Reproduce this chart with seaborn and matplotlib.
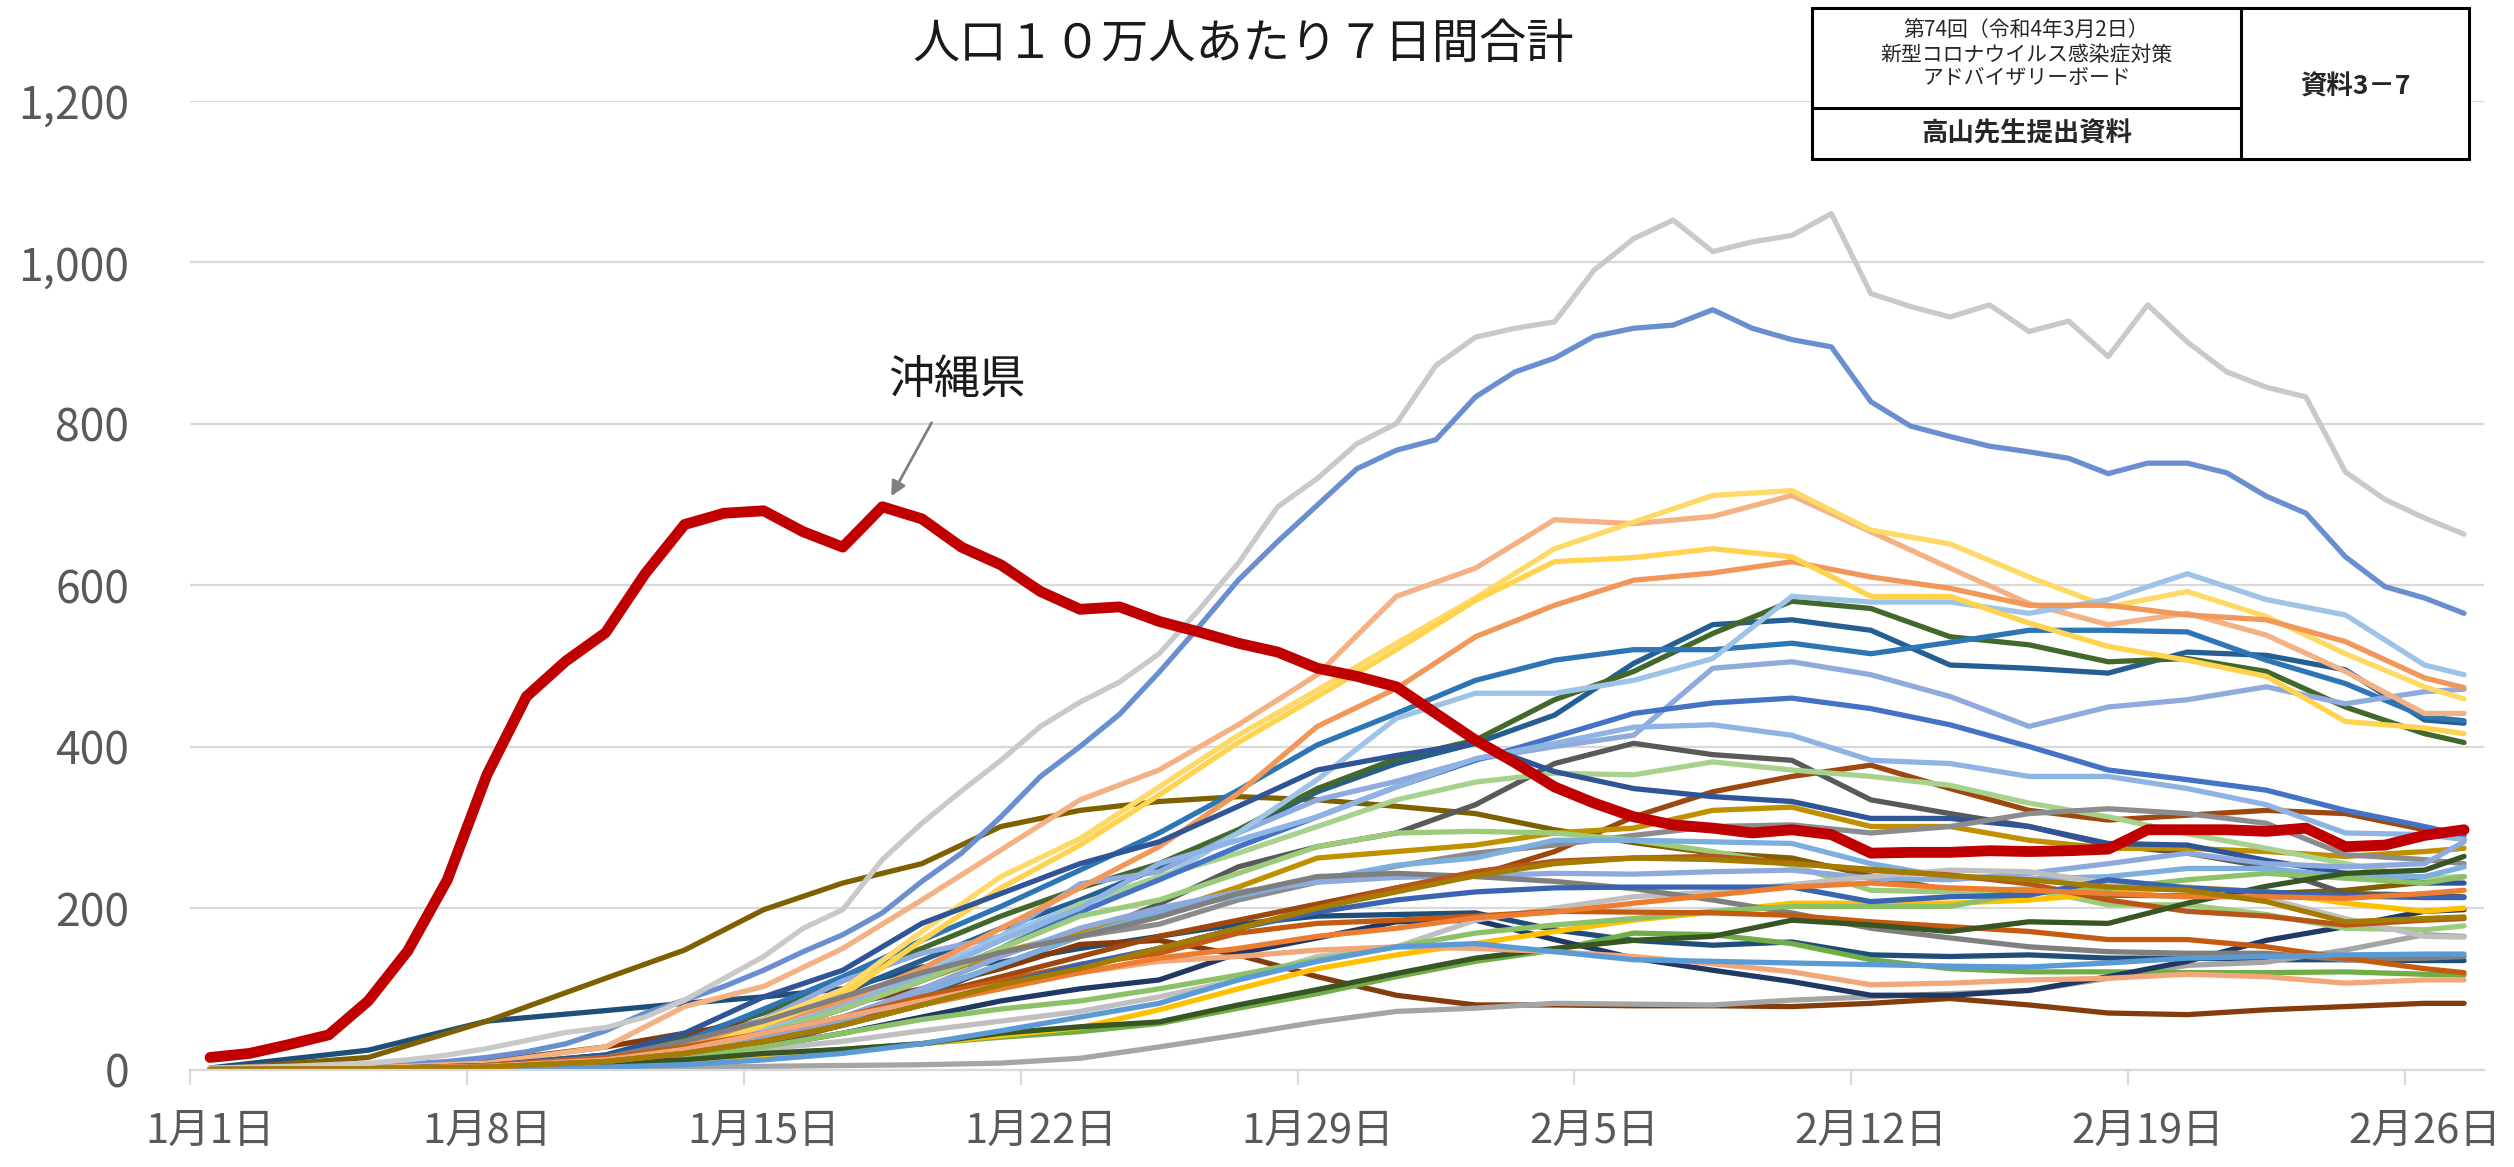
import pandas as pd
import seaborn as sns
import matplotlib
matplotlib.use('Agg')
from matplotlib import pyplot as plt
from matplotlib.patches import Rectangle
from matplotlib.lines import Line2D

# days since 1/1 (1/1 .. 2/27)
days = list(range(58))
# sparse day grid used for the crowded lines
grid = [0, 4, 7, 10, 12, 14, 16, 18, 20, 22, 24, 26, 28, 30, 32, 34, 36, 38, 40, 42, 44, 46, 48, 50, 52, 54, 56, 57]

tick_days = [0, 7, 14, 21, 28, 35, 42, 49, 56]
tick_labels = ['1月1日', '1月8日', '1月15日', '1月22日', '1月29日', '2月5日', '2月12日', '2月19日', '2月26日']
y_ticks = [0, 200, 400, 600, 800, 1000, 1200]

okinawa = [15, 20, 31, 43, 85, 147, 235, 365, 462, 506, 541, 614, 675, 689, 692, 666, 647, 697, 682, 647,
           625, 592, 570, 573, 555, 542, 528, 517, 497, 487, 474, 441, 408, 380, 350, 330, 313, 303, 299, 293,
           297, 291, 268, 269, 269, 271, 270, 271, 273, 297, 297, 297, 295, 299, 276, 278, 290, 297]
osaka = [2, 3, 4, 6, 8, 12, 18, 26, 36, 46, 52, 65, 86, 113, 140, 175, 198, 260, 305, 345,
         383, 425, 455, 480, 515, 569, 627, 697, 732, 775, 800, 872, 907, 918, 926, 990, 1029, 1052, 1013, 1025,
         1033, 1060, 961, 945, 932, 947, 914, 927, 883, 947, 901, 864, 845, 833, 740, 706, 683, 663]
tokyo = [1, 1, 2, 3, 5, 7, 10, 15, 22, 32, 48, 70, 86, 103, 123, 146, 167, 194, 233, 268,
         313, 363, 400, 440, 492, 548, 606, 654, 699, 744, 767, 780, 833, 864, 881, 908, 918, 922, 941, 918,
         904, 895, 827, 797, 784, 772, 765, 757, 738, 751, 751, 739, 710, 689, 635, 598, 584, 565]

# values on the sparse grid
yellow_a = [0, 1, 4, 12, 25, 61, 99, 171, 239, 286, 350, 414, 470, 528, 584, 645, 678, 711, 717, 668, 651, 610, 573, 592, 561, 515, 474, 459]
salmon_a = [0, 2, 8, 28, 78, 103, 150, 210, 272, 334, 371, 427, 489, 586, 621, 681, 676, 685, 711, 666, 621, 577, 551, 565, 538, 493, 441, 441]
yellow_b = [0, 1, 3, 10, 22, 55, 92, 160, 225, 278, 340, 405, 462, 520, 581, 629, 634, 645, 635, 586, 586, 553, 524, 507, 487, 431, 423, 416]
orange_a = [0, 1, 4, 14, 30, 55, 85, 125, 175, 225, 276, 342, 425, 472, 536, 575, 606, 615, 629, 610, 596, 575, 575, 563, 557, 530, 485, 473]
skyblue_a = [0, 1, 4, 12, 25, 50, 80, 120, 165, 205, 235, 293, 359, 435, 466, 466, 482, 509, 586, 579, 579, 565, 582, 614, 582, 563, 501, 489]
blue_a = [0, 1, 4, 15, 35, 75, 115, 160, 202, 247, 293, 346, 402, 441, 482, 507, 520, 520, 528, 515, 529, 544, 544, 542, 507, 478, 437, 432]
green_a = [0, 1, 5, 18, 40, 70, 110, 150, 190, 225, 255, 297, 348, 385, 408, 458, 493, 540, 580, 571, 536, 526, 505, 509, 493, 449, 416, 405]
navy_a = [0, 1, 4, 14, 30, 60, 95, 135, 175, 210, 250, 295, 344, 379, 404, 439, 503, 551, 557, 544, 501, 497, 491, 517, 513, 495, 433, 429]
lavender_a = [0, 1, 4, 14, 32, 62, 110, 144, 165, 230, 245, 293, 334, 357, 384, 400, 414, 497, 505, 489, 462, 425, 449, 458, 474, 453, 468, 471]
blue_b = [0, 1, 3, 10, 22, 45, 75, 110, 150, 195, 235, 276, 313, 350, 383, 412, 441, 454, 460, 447, 427, 400, 371, 359, 346, 321, 301, 290]
skyblue_b = [0, 1, 3, 10, 22, 45, 78, 115, 160, 200, 255, 284, 313, 350, 385, 404, 424, 427, 414, 383, 379, 363, 363, 348, 328, 293, 291, 285]
darkgray_a = [0, 1, 3, 8, 15, 30, 55, 90, 130, 165, 205, 251, 276, 293, 328, 379, 404, 390, 383, 334, 317, 301, 278, 268, 251, 218, 216, 214]
brown_a = [0, 1, 3, 10, 20, 40, 65, 90, 115, 140, 165, 185, 205, 225, 240, 270, 313, 344, 363, 377, 348, 321, 309, 315, 321, 317, 297, 285]
lightgreen_a = [0, 1, 3, 10, 22, 45, 75, 110, 150, 205, 239, 268, 301, 334, 356, 367, 365, 381, 371, 363, 352, 330, 313, 292, 274, 255, 237, 239]
navy_b = [0, 1, 5, 18, 45, 90, 123, 181, 218, 255, 282, 326, 371, 389, 404, 369, 348, 338, 332, 311, 311, 301, 280, 278, 259, 243, 231, 231]
gold_a = [0, 1, 3, 12, 25, 45, 75, 110, 145, 170, 194, 226, 262, 270, 278, 293, 299, 321, 325, 301, 301, 284, 274, 274, 270, 264, 270, 274]
olive_a = [0, 15, 60, 113, 148, 198, 231, 255, 301, 321, 332, 338, 334, 326, 317, 297, 281, 268, 262, 240, 222, 220, 216, 215, 218, 222, 232, 239]
gray_a = [0, 1, 3, 10, 22, 40, 65, 95, 130, 165, 180, 210, 232, 252, 268, 278, 290, 301, 303, 293, 301, 317, 323, 317, 305, 266, 260, 255]
lightgreen_b = [0, 1, 3, 10, 22, 45, 75, 110, 150, 190, 210, 243, 276, 293, 295, 293, 284, 270, 253, 222, 220, 224, 204, 204, 192, 175, 173, 178]
skyblue_c = [0, 1, 3, 8, 18, 35, 60, 95, 130, 165, 195, 215, 235, 253, 262, 284, 284, 282, 280, 255, 238, 236, 239, 249, 249, 239, 239, 251]
lavender_b = [0, 1, 3, 8, 18, 38, 65, 100, 140, 175, 200, 220, 232, 238, 240, 243, 242, 245, 247, 237, 235, 243, 255, 268, 255, 251, 255, 282]
amber_a = [0, 0, 1, 4, 8, 14, 22, 32, 42, 52, 74, 100, 125, 142, 156, 171, 185, 195, 206, 206, 206, 210, 218, 226, 220, 206, 196, 200]
silver_a = [0, 1, 3, 8, 15, 25, 35, 48, 60, 72, 90, 111, 140, 152, 185, 200, 214, 220, 229, 239, 247, 245, 231, 226, 212, 187, 165, 164]
gray_b = [0, 1, 5, 15, 35, 60, 90, 120, 145, 165, 189, 218, 239, 243, 239, 233, 224, 210, 194, 175, 163, 152, 146, 144, 144, 136, 138, 140]
lightgreen_c = [0, 1, 3, 8, 15, 28, 45, 62, 75, 85, 100, 117, 136, 152, 169, 179, 187, 196, 202, 202, 202, 220, 224, 235, 243, 237, 231, 239]
rust_a = [0, 1, 5, 14, 28, 45, 65, 90, 110, 130, 144, 169, 181, 185, 190, 196, 195, 194, 191, 183, 177, 171, 161, 161, 152, 138, 125, 120]
rust_b = [0, 1, 3, 10, 20, 35, 55, 80, 105, 125, 150, 175, 200, 225, 245, 258, 262, 264, 256, 247, 241, 230, 210, 196, 190, 179, 185, 187]
teal_a = [2, 24, 60, 73, 82, 90, 100, 127, 133, 150, 165, 180, 190, 192, 194, 173, 160, 154, 158, 142, 140, 142, 138, 138, 136, 136, 135, 135]
navy_c = [0, 1, 3, 8, 15, 28, 45, 65, 85, 100, 111, 144, 163, 183, 185, 161, 138, 123, 109, 92, 92, 98, 115, 134, 160, 177, 196, 198]
green_b = [0, 0, 1, 8, 12, 20, 25, 32, 45, 53, 59, 80, 99, 119, 138, 150, 160, 165, 185, 179, 171, 183, 181, 206, 227, 243, 247, 264]
green_c = [0, 0, 1, 5, 10, 18, 25, 32, 40, 47, 57, 76, 94, 115, 134, 148, 169, 167, 156, 136, 125, 121, 121, 120, 120, 121, 118, 117]
salmon_b = [0, 1, 4, 12, 25, 45, 65, 85, 105, 120, 134, 140, 148, 152, 150, 146, 140, 131, 121, 105, 107, 111, 113, 118, 115, 107, 111, 111]
skyblue_d = [0, 0, 1, 3, 6, 12, 20, 32, 48, 65, 82, 111, 134, 152, 156, 146, 136, 134, 132, 130, 128, 127, 132, 138, 140, 142, 143, 143]
brown_b = [0, 1, 10, 28, 45, 60, 80, 100, 125, 155, 160, 142, 115, 92, 80, 80, 79, 79, 78, 82, 88, 80, 70, 68, 74, 78, 82, 82]
gray_c = [0, 0, 1, 2, 3, 4, 5, 6, 8, 14, 28, 43, 59, 72, 76, 82, 81, 80, 86, 90, 94, 98, 113, 129, 133, 148, 167, 165]
blue_c = [0, 1, 3, 10, 20, 35, 55, 80, 105, 130, 150, 175, 195, 210, 220, 225, 226, 226, 226, 208, 214, 216, 235, 225, 220, 215, 213, 213]
orange_b = [0, 1, 3, 10, 20, 35, 55, 80, 100, 120, 138, 150, 165, 175, 188, 195, 206, 216, 226, 231, 225, 222, 218, 214, 214, 212, 218, 222]
gold_b = [0, 1, 3, 10, 20, 35, 55, 80, 105, 125, 150, 175, 200, 220, 240, 255, 262, 260, 255, 248, 240, 235, 226, 222, 208, 183, 187, 189]

grid_lines = [
    ('teal_a', '#1F4E79', teal_a), ('olive_a', '#7F6000', olive_a), ('navy_a', '#255E91', navy_a),
    ('green_a', '#43682B', green_a), ('brown_b', '#843C0C', brown_b), ('gray_c', '#A5A5A5', gray_c),
    ('blue_a', '#2E75B6', blue_a), ('green_c', '#70AD47', green_c), ('navy_c', '#203864', navy_c),
    ('brown_a', '#9E480E', brown_a), ('darkgray_a', '#595959', darkgray_a), ('gold_a', '#BF9000', gold_a),
    ('lavender_a', '#8FAADC', lavender_a), ('salmon_a', '#F4B183', salmon_a), ('yellow_a', '#FFD966', yellow_a),
    ('skyblue_a', '#9DC3E6', skyblue_a), ('lightgreen_a', '#A9D18E', lightgreen_a), ('blue_b', '#4472C4', blue_b),
    ('orange_a', '#F1975A', orange_a), ('yellow_b', '#FFD34D', yellow_b), ('skyblue_b', '#8DB4E2', skyblue_b),
    ('navy_b', '#2F5597', navy_b), ('gray_a', '#8C8C8C', gray_a), ('lightgreen_b', '#9CCB7C', lightgreen_b),
    ('skyblue_c', '#7CAFDD', skyblue_c), ('lavender_b', '#8EA9DB', lavender_b), ('amber_a', '#FFC000', amber_a),
    ('silver_a', '#BFBFBF', silver_a), ('gray_b', '#7F7F7F', gray_b), ('lightgreen_c', '#8CC168', lightgreen_c),
    ('rust_a', '#C55A11', rust_a), ('rust_b', '#B8561A', rust_b), ('green_b', '#375623', green_b),
    ('salmon_b', '#F2A77A', salmon_b), ('skyblue_d', '#5B9BD5', skyblue_d), ('blue_c', '#3A64B0', blue_c),
    ('orange_b', '#ED7D31', orange_b), ('gold_b', '#A67C00', gold_b),
]
daily_lines = [('tokyo', '#6A8FD0', tokyo), ('osaka', '#C9C9C9', osaka)]

rows = []
for name, color, vals in grid_lines:
    for d, v in zip(grid, vals):
        rows.append((d + 0.5, v, name))
for name, color, vals in daily_lines:
    for d, v in zip(days, vals):
        rows.append((d + 0.5, v, name))
df = pd.DataFrame(rows, columns=['x', 'value', 'pref'])

order = [n for n, _, _ in grid_lines[:13]] + ['tokyo'] + [n for n, _, _ in grid_lines[13:26]] + ['osaka'] + [n for n, _, _ in grid_lines[26:]]
palette = {n: c for n, c, _ in grid_lines + daily_lines}

sns.set_theme(style='white')
plt.rcParams['font.family'] = ['Noto Sans CJK JP', 'DejaVu Sans']
plt.rcParams['lines.solid_joinstyle'] = 'round'
plt.rcParams['lines.solid_capstyle'] = 'round'

fig = plt.figure(figsize=(25.14, 11.67), dpi=100)
ax = fig.add_axes([0.0757, 0.0835, 0.9123, 0.8303])

sns.lineplot(data=df, x='x', y='value', hue='pref', hue_order=order, palette=palette,
             linewidth=3.8, legend=False, estimator=None, ax=ax)
sns.lineplot(x=[d + 0.5 for d in days], y=okinawa, color='#C00000', linewidth=7.8, ax=ax)

ax.set_xlim(0, 58)
ax.set_ylim(0, 1200)
ax.set_xlabel('')
ax.set_ylabel('')
ax.set_axisbelow(True)

ax.set_yticks(y_ticks)
ax.set_yticklabels([f'{v:,}' for v in y_ticks])
ax.yaxis.grid(True, color='#D9D9D9', linewidth=1.6)
ax.xaxis.grid(False)
ax.tick_params(axis='y', length=0, pad=44, labelsize=32, labelcolor='#595959')

ax.set_xticks([d + 0.5 for d in tick_days])
ax.set_xticklabels(tick_labels)
ax.set_xticks(tick_days, minor=True)
ax.tick_params(axis='x', which='major', length=0, pad=30, labelsize=30, labelcolor='#595959')
ax.tick_params(axis='x', which='minor', length=11, width=1.6, color='#D9D9D9', direction='out', bottom=True)

for side in ['top', 'right', 'left']:
    ax.spines[side].set_visible(False)
ax.spines['bottom'].set_color('#D9D9D9')
ax.spines['bottom'].set_linewidth(1.6)

# Okinawa annotation
ax.text(19.39, 854, '沖縄県', ha='center', va='center', fontsize=33, color='#1a1a1a')
ax.annotate('', xy=(17.69, 707), xytext=(18.78, 804),
            arrowprops=dict(arrowstyle='-|>', color='#7F7F7F', lw=2, mutation_scale=22))

fig.text(0.4944, 0.962, '人口１０万人あたり７日間合計', ha='center', va='center', fontsize=34, color='#1a1a1a')

# header box (top right)
bx0, bx1, bxm = 1812 / 2514, 2469 / 2514, 2241 / 2514
by0, by1, bym = 1 - 159 / 1167, 1 - 8 / 1167, 1 - 108 / 1167
fig.add_artist(Rectangle((bx0, by0), bx1 - bx0, by1 - by0, transform=fig.transFigure,
                         fill=True, facecolor='white', edgecolor='black', linewidth=2.2, zorder=5))
fig.add_artist(Line2D([bxm, bxm], [by0, by1], transform=fig.transFigure, color='black', linewidth=2.2, zorder=6))
fig.add_artist(Line2D([bx0, bxm], [bym, bym], transform=fig.transFigure, color='black', linewidth=2.2, zorder=6))

cx = (bx0 + bxm) / 2
fig.text(cx, 1 - 31 / 1167, '第74回（令和4年3月2日）', ha='center', va='center', fontsize=15, zorder=7)
fig.text(cx, 1 - 55 / 1167, '新型コロナウイルス感染症対策', ha='center', va='center', fontsize=15, zorder=7)
fig.text(cx, 1 - 78 / 1167, 'アドバイザリーボード', ha='center', va='center', fontsize=15, zorder=7)
fig.text(cx, 1 - 134 / 1167, '高山先生提出資料', ha='center', va='center', fontsize=19, fontweight='bold', zorder=7)
fig.text((bxm + bx1) / 2, 1 - 87 / 1167, '資料3－7', ha='center', va='center', fontsize=19, fontweight='bold', zorder=7)

fig.savefig('out.png', dpi=100)
